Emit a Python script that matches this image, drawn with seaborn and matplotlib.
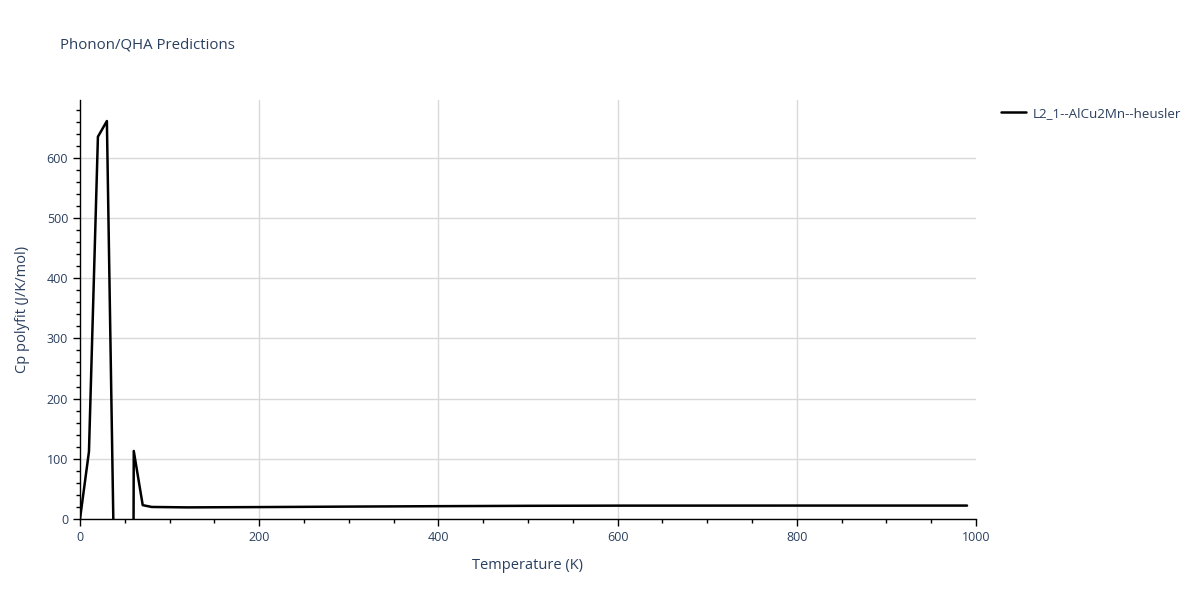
import matplotlib
matplotlib.use("Agg")
import matplotlib.pyplot as plt
from matplotlib.ticker import MultipleLocator
import seaborn as sns
import pandas as pd

temperature = [0, 10, 20, 30, 40, 50, 60, 70, 80, 120, 200, 300, 400, 500, 600, 800, 990]
cp_polyfit = [0, 112, 635, 661, -260, -5000, 113, 23, 20, 19.3, 19.8, 20.6, 21.3, 21.9, 22.2, 22.3, 22.3]
series_name = "L2_1--AlCu2Mn--heusler"

df = pd.DataFrame({"Temperature (K)": temperature, "Cp": cp_polyfit, "series": series_name})

sns.set_theme(style="white")
plt.rcParams["font.family"] = ["Open Sans", "DejaVu Sans"]
txt = "#2a3f5f"

fig = plt.figure(figsize=(12, 6), dpi=100)
ax = fig.add_axes([80/1200, 81/600, 896/1200, 419/600])

sns.lineplot(data=df, x="Temperature (K)", y="Cp", hue="series", palette=["black"],
             estimator=None, sort=False, linewidth=1.8, ax=ax)

ax.set_xlim(0, 1000)
ax.set_ylim(0, 696)
ax.xaxis.set_major_locator(MultipleLocator(200))
ax.xaxis.set_minor_locator(MultipleLocator(50))
ax.yaxis.set_major_locator(MultipleLocator(100))
ax.yaxis.set_minor_locator(MultipleLocator(20))
ax.grid(True, which="major", color="#d9d9d9", linewidth=1)
for gl, loc in zip(ax.get_xgridlines(), ax.get_xticks()):
    if loc <= 0 or loc >= 1000:
        gl.set_visible(False)
for s in ["top", "right"]:
    ax.spines[s].set_visible(False)
for s in ["left", "bottom"]:
    ax.spines[s].set_color("black")
    ax.spines[s].set_linewidth(1)
ax.tick_params(axis="both", which="major", direction="out", length=5, width=1,
               color="black", labelsize=9, labelcolor=txt, bottom=True, left=True)
ax.tick_params(axis="both", which="minor", direction="out", length=3, width=1,
               color="black", bottom=True, left=True)
ax.set_xlabel("Temperature (K)", fontsize=10.5, color=txt, labelpad=10)
ax.set_ylabel("Cp polyfit (J/K/mol)", fontsize=10.5, color=txt, labelpad=12)

fig.text(60/1200, 1 - 45/600, "Phonon/QHA Predictions", fontsize=10.8, color=txt,
         va="center", ha="left")

leg = ax.legend(loc="upper left", bbox_to_anchor=(1.02, 1.0), frameon=False,
                fontsize=9.6, handlelength=1.9, handletextpad=0.5, borderaxespad=0.3,
                borderpad=0.2)
for t in leg.get_texts():
    t.set_color(txt)
leg.set_title(None)

fig.savefig("out.png", dpi=100)
